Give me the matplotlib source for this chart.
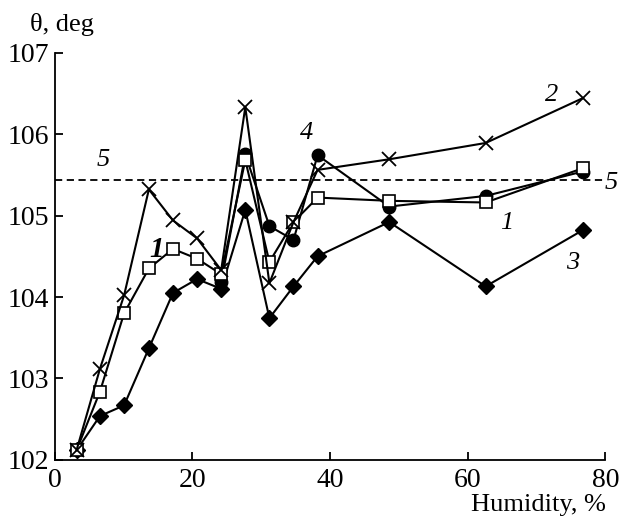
import matplotlib.pyplot as plt

# Humidity, % (shared x positions)
hum = [3.2, 6.6, 10.1, 13.7, 17.2, 20.7, 24.2, 27.7, 31.2, 34.7, 38.2, 48.6, 62.6, 76.7]

# Contact angle, deg
theta_1 = [102.12, 102.84, 103.80, 104.35, 104.59, 104.47, 104.28, 105.68, 104.43, 104.92, 105.22, 105.18, 105.16, 105.58]
theta_2 = [102.12, 103.12, 104.02, 105.32, 104.94, 104.72, 104.33, 106.33, 104.17, 104.92, 105.56, 105.69, 105.89, 106.44]
theta_3 = [102.12, 102.54, 102.67, 103.37, 104.05, 104.22, 104.10, 105.07, 103.74, 104.13, 104.50, 104.92, 104.13, 104.82]
hum_4 = [24.2, 27.7, 31.2, 34.7, 38.2, 48.6, 62.6, 76.7]
theta_4 = [104.18, 105.75, 104.87, 104.70, 105.74, 105.11, 105.24, 105.54]
theta_5 = 105.44

plt.rcParams['font.family'] = ['Liberation Serif', 'DejaVu Serif']

fig = plt.figure(figsize=(6.21, 5.2), dpi=100)
ax = fig.add_axes([0.0878, 0.1154, 0.8872, 0.7836])

k = 'black'
ax.axhline(theta_5, color=k, lw=1.3, ls=(0, (4, 2.5)))
ax.plot(hum, theta_3, color=k, lw=1.5, marker='D', ms=8, mfc=k, mec=k)
ax.plot(hum_4, theta_4, color=k, lw=1.5, marker='o', ms=9, mfc=k, mec=k)
ax.plot(hum, theta_1, color=k, lw=1.5, marker='s', ms=8.5, mfc='white', mec=k, mew=1.2)
ax.plot(hum, theta_2, color=k, lw=1.5, marker='x', ms=10, mec=k, mew=1.3)

ax.set_xlim(0, 80)
ax.set_ylim(102, 107)
ax.set_xticks([0, 20, 40, 60, 80])
ax.set_yticks([102, 103, 104, 105, 106, 107])
ax.spines['top'].set_visible(False)
ax.spines['right'].set_visible(False)
ax.spines['left'].set_linewidth(1.3)
ax.spines['bottom'].set_linewidth(1.3)
ax.tick_params(direction='in', length=6, width=1.3, labelsize=20)
ax.tick_params(axis='x', pad=6)
ax.tick_params(axis='y', pad=4)

# curve labels
fs = 19
lab = dict(fontsize=fs, style='italic', ha='center', va='center')
ax.text(7.0, 105.68, '5', **lab)
ax.text(80.9, 105.40, '5', **lab)
ax.text(72.2, 106.48, '2', **lab)
ax.text(36.6, 106.01, '4', **lab)
ax.text(65.6, 104.91, '1', **lab)
ax.text(75.3, 104.42, '3', **lab)
ax.text(14.8, 104.58, '1', fontsize=21, style='italic', weight='bold', ha='center', va='center')

fig.text(0.048, 0.952, 'θ, deg', fontsize=19, ha='left', va='center')
fig.text(0.975, 0.029, 'Humidity, %', fontsize=19, ha='right', va='center')

fig.savefig('out.png', dpi=100)
